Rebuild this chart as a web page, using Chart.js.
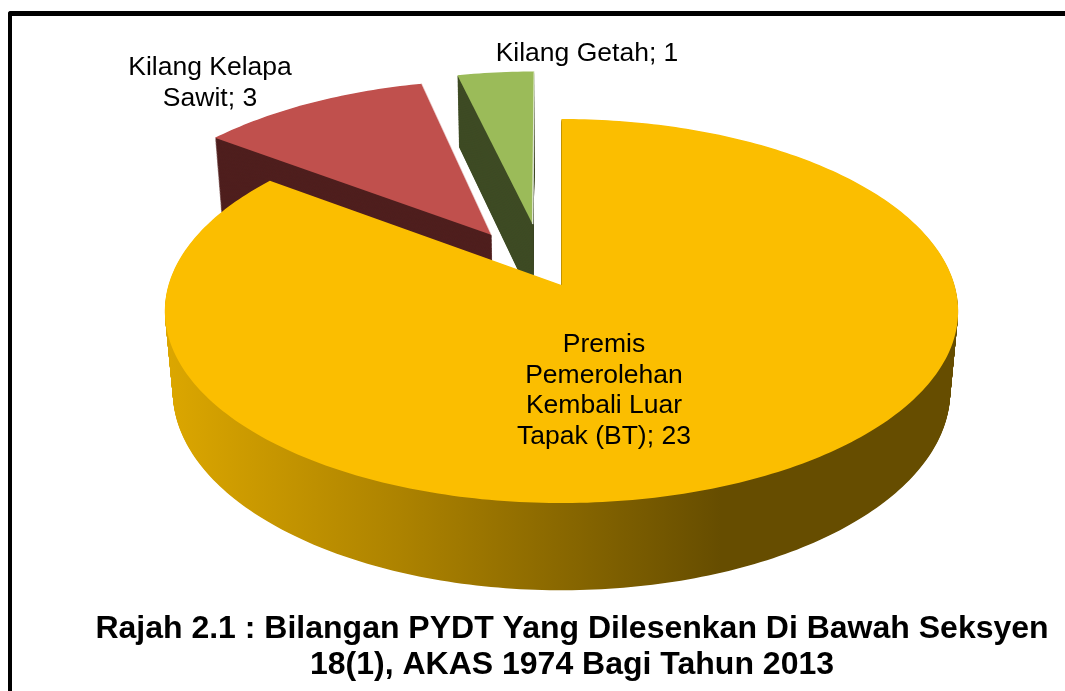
<!DOCTYPE html>
<html>
<head>
<meta charset="utf-8">
<title>Rajah 2.1</title>
<script src="https://cdn.jsdelivr.net/npm/chart.js@4"></script>
<style>
  html, body { margin: 0; padding: 0; background: #fff; overflow: hidden; }
  #frame { position: absolute; left: 8px; top: 11px; width: 1100px; height: 720px;
           border-left: 4px solid #000; border-top: 5px solid #000; border-top-left-radius: 3px; }
  #myChart { position: absolute; left: 0; top: 0; }
</style>
</head>
<body>
<div id="frame"></div>
<canvas id="myChart" width="1065" height="691"></canvas>
<script>
var categories = ['Premis Pemerolehan Kembali Luar Tapak (BT)', 'Kilang Kelapa Sawit', 'Kilang Getah'];
var values = [23, 3, 1];
var titleLines = ['Rajah 2.1 : Bilangan PYDT Yang Dilesenkan Di Bawah Seksyen', '18(1), AKAS 1974 Bagi Tahun 2013'];

var topColors = ['#fbbe00', '#c0504d', '#9bbb59'];
var wallColors = [null, '#4f1f1e', '#3e4b24'];
var explode = [0, 66, 68];

// perspective view of the pie, fitted to the picture
var view = { x0: 561.5, y0: 285, a: 393, b: 188.5, k: 0.1355, depth: 81.5, c: 0.02 };
var shiftX = [0, -1, -14];

// label box centre x, first baseline y, wrap width
var labelBoxes = [
  { x: 604, y: 352, w: 185 },
  { x: 210, y: 75, w: 185 },
  { x: 587, y: 61, w: 230 }
];

function project(u, v, z, dx) {
  var w = 1 + view.k * v + view.c * z;
  return {
    x: view.x0 + view.a * u / w + dx,
    y: view.y0 + (view.depth * z - view.b * v) / w
  };
}

function sliceOrigin(arc, i) {
  var mid = (arc.startAngle + arc.endAngle) / 2;
  var d = explode[i] / 200;
  return { x: Math.cos(mid) * d, y: -Math.sin(mid) * d };
}

function slicePath(ctx, arc, i, z) {
  var o = sliceOrigin(arc, i);
  var steps = Math.max(8, Math.round((arc.endAngle - arc.startAngle) * 60));
  var p = project(o.x, o.y, z, shiftX[i]);
  ctx.beginPath();
  ctx.moveTo(p.x, p.y);
  for (var s = 0; s <= steps; s++) {
    var ang = arc.startAngle + (arc.endAngle - arc.startAngle) * s / steps;
    p = project(o.x + Math.cos(ang), o.y - Math.sin(ang), z, shiftX[i]);
    ctx.lineTo(p.x, p.y);
  }
  ctx.closePath();
}

// pale rim on the clockwise edge of the pulled out slices
function sliceRim(ctx, arc, i) {
  var o = sliceOrigin(arc, i);
  var a = project(o.x, o.y, 0, shiftX[i]);
  var b = project(o.x + Math.cos(arc.endAngle), o.y - Math.sin(arc.endAngle), 0, shiftX[i]);
  ctx.beginPath();
  ctx.moveTo(a.x, a.y);
  ctx.lineTo(b.x, b.y);
  ctx.strokeStyle = 'rgba(255,255,255,0.75)';
  ctx.lineWidth = 1.5;
  ctx.stroke();
}

function wrapLabel(ctx, text, width) {
  var lines = [], line = '';
  text.split(' ').forEach(function (word) {
    var next = line ? line + ' ' + word : word;
    if (line && ctx.measureText(next).width > width) {
      lines.push(line);
      line = word;
    } else {
      line = next;
    }
  });
  lines.push(line);
  return lines;
}

var pie3d = {
  id: 'pie3d',
  beforeDatasetsDraw: function (chart) {
    var ctx = chart.ctx;
    var arcs = chart.getDatasetMeta(0).data;

    var sideGrad = ctx.createLinearGradient(165, 0, 960, 0);
    sideGrad.addColorStop(0, '#dca700');
    sideGrad.addColorStop(0.3, '#ac8200');
    sideGrad.addColorStop(0.7, '#664d00');
    sideGrad.addColorStop(1, '#664d00');

    ctx.save();
    // back slices first so the big slice sits over their walls
    [2, 1, 0].forEach(function (i) {
      var arc = arcs[i];
      ctx.fillStyle = wallColors[i] || sideGrad;
      for (var z = 1; z > 0; z -= 0.01) {
        slicePath(ctx, arc, i, z);
        ctx.fill();
      }
      slicePath(ctx, arc, i, 0);
      ctx.fillStyle = topColors[i];
      ctx.fill();
      if (explode[i] > 0) sliceRim(ctx, arc, i);
    });

    ctx.fillStyle = '#000';
    ctx.font = '26.5px "Liberation Sans", Arial, sans-serif';
    ctx.textAlign = 'center';
    ctx.textBaseline = 'alphabetic';
    categories.forEach(function (name, i) {
      var lines = wrapLabel(ctx, name + '; ' + values[i], labelBoxes[i].w);
      lines.forEach(function (line, n) {
        ctx.fillText(line, labelBoxes[i].x, labelBoxes[i].y + n * 30.5);
      });
    });
    ctx.restore();
    return false;
  }
};

var myChart = new Chart(document.getElementById('myChart'), {
  type: 'pie',
  data: {
    labels: categories,
    datasets: [{
      data: values,
      backgroundColor: topColors,
      offset: explode,
      borderWidth: 0
    }]
  },
  options: {
    responsive: false,
    animation: false,
    layout: { padding: { left: 79, right: 0, top: 0, bottom: 7 } },
    plugins: {
      legend: { display: false },
      tooltip: { enabled: false },
      title: {
        display: true,
        position: 'bottom',
        text: titleLines,
        color: '#000',
        padding: 0,
        font: { family: '"Liberation Sans", Arial, sans-serif', size: 32, weight: 'bold', lineHeight: 1.15 }
      }
    }
  },
  plugins: [pie3d]
});
</script>
</body>
</html>
